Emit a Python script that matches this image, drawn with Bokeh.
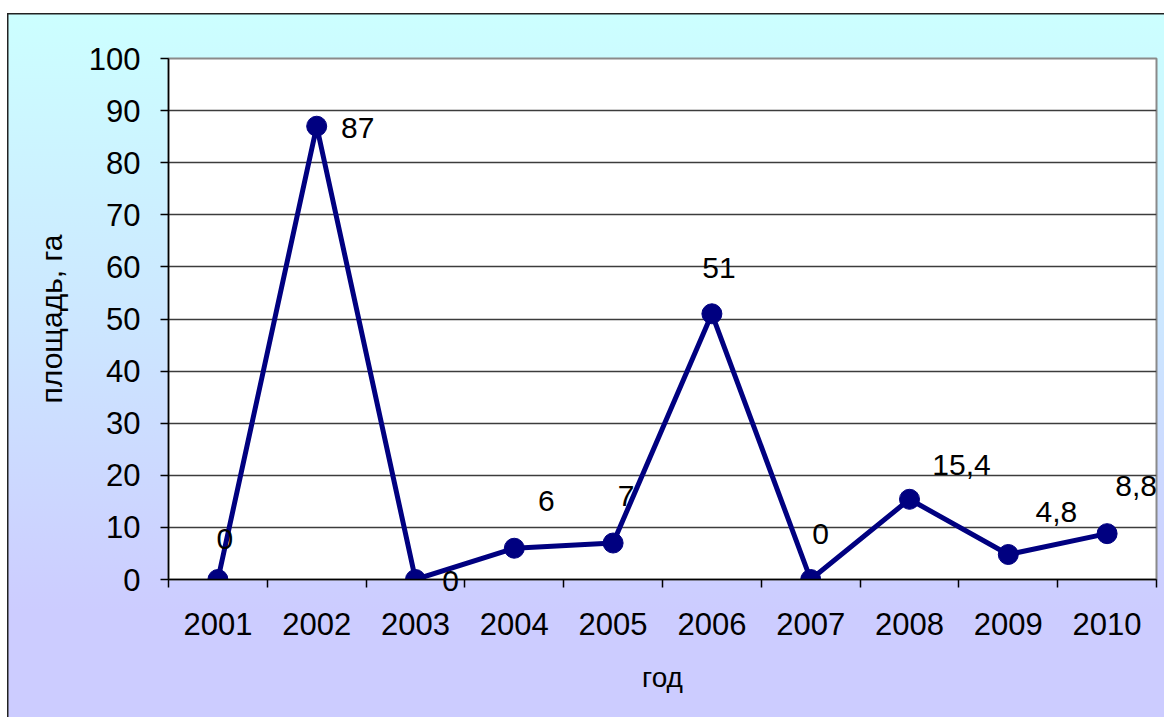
from bokeh.plotting import figure
from bokeh.models import ColumnDataSource, FixedTicker, Range1d
from bokeh.core.properties import value
from bokeh.embed import file_html
from bokeh.resources import INLINE

# ---- data ----
years = ["2001", "2002", "2003", "2004", "2005", "2006", "2007", "2008", "2009", "2010"]
area = [0, 87, 0, 6, 7, 51, 0, 15.4, 4.8, 8.8]
area_labels = ["0", "87", "0", "6", "7", "51", "0", "15,4", "4,8", "8,8"]
y_ticks = [0, 10, 20, 30, 40, 50, 60, 70, 80, 90, 100]
x_title = "год"
y_title = "площадь, га"

# label offsets (style, pixels; glyph y offset is screen-down)
lab_dx = [7, 41, 35, 32, 13, 7, 10, 52, 48, 29]
lab_dy = [41, -2, -1, 47, 47, 46, 46, 34, 42, 48]

FONT = "Liberation Sans"
FS = "31px"

n = len(years)
xs = [i + 0.5 for i in range(n)]

src = ColumnDataSource(dict(x=xs, y=area, lab=area_labels, dx=lab_dx,
                            dy=[-d for d in lab_dy]))

p = figure(width=1157, height=704, output_backend="svg", toolbar_location=None,
           x_range=Range1d(0, n), y_range=Range1d(0, 100),
           min_border_left=161, min_border_right=8, min_border_top=45, min_border_bottom=138)
p.margin = (13, 0, 0, 7)
p.styles = {"background": "linear-gradient(to bottom, #ccffff 0%, #cce6ff 45%, #ccccff 85%, #ccccff 100%)",
            "box-shadow": "inset 1.5px 1.5px 0 0 #222"}
p.border_fill_alpha = 0
p.background_fill_color = "white"
p.outline_line_color = "#8a8a8a"
p.outline_line_width = 2

# grid
p.xgrid.grid_line_color = None
p.ygrid.grid_line_color = "#3c3c3c"
p.ygrid.grid_line_width = 1.5

# y axis
p.yaxis.ticker = FixedTicker(ticks=y_ticks)
p.yaxis.axis_line_color = "black"
p.yaxis.axis_line_width = 1.5
p.yaxis.major_tick_line_color = "black"
p.yaxis.major_tick_line_width = 1.5
p.yaxis.major_tick_in = 0
p.yaxis.major_tick_out = 8
p.yaxis.minor_tick_line_color = None
p.yaxis.major_label_standoff = 20
p.yaxis.major_label_text_font = FONT
p.yaxis.major_label_text_font_size = FS
p.yaxis.major_label_text_color = "black"
p.yaxis.axis_label = y_title
p.yaxis.axis_label_text_font = FONT
p.yaxis.axis_label_text_font_size = "30px"
p.yaxis.axis_label_text_font_style = "normal"
p.yaxis.axis_label_text_color = "black"
p.yaxis.axis_label_standoff = 18

# x axis: labels at category centers, ticks at boundaries
p.xaxis.ticker = FixedTicker(ticks=xs, minor_ticks=list(range(n + 1)))
p.xaxis.major_label_overrides = {x: y for x, y in zip(xs, years)}
p.xaxis.axis_line_color = "black"
p.xaxis.axis_line_width = 1.5
p.xaxis.major_tick_line_color = None
p.xaxis.minor_tick_line_color = "black"
p.xaxis.minor_tick_line_width = 1.5
p.xaxis.minor_tick_in = 0
p.xaxis.minor_tick_out = 8
p.xaxis.major_tick_out = 8
p.xaxis.major_tick_in = 0
p.xaxis.major_label_standoff = 25
p.xaxis.major_label_text_font = FONT
p.xaxis.major_label_text_font_size = FS
p.xaxis.major_label_text_color = "black"
p.xaxis.axis_label = x_title
p.xaxis.axis_label_text_font = FONT
p.xaxis.axis_label_text_font_size = "28px"
p.xaxis.axis_label_text_font_style = "normal"
p.xaxis.axis_label_text_color = "black"
p.xaxis.axis_label_standoff = 24

# series
p.line("x", "y", source=src, line_color="#000080", line_width=5)
p.scatter("x", "y", source=src, size=20, fill_color="#000080", line_color="#000080")

# data labels, drawn at overlay level so they are not clipped to the frame
p.text("x", "y", text="lab", source=src, x_offset="dx", y_offset="dy",
       text_align="center", text_baseline="middle",
       text_font=value(FONT), text_font_size=value("30px"), text_color="black",
       level="overlay")

open("out.html", "w").write(file_html(p, INLINE))
